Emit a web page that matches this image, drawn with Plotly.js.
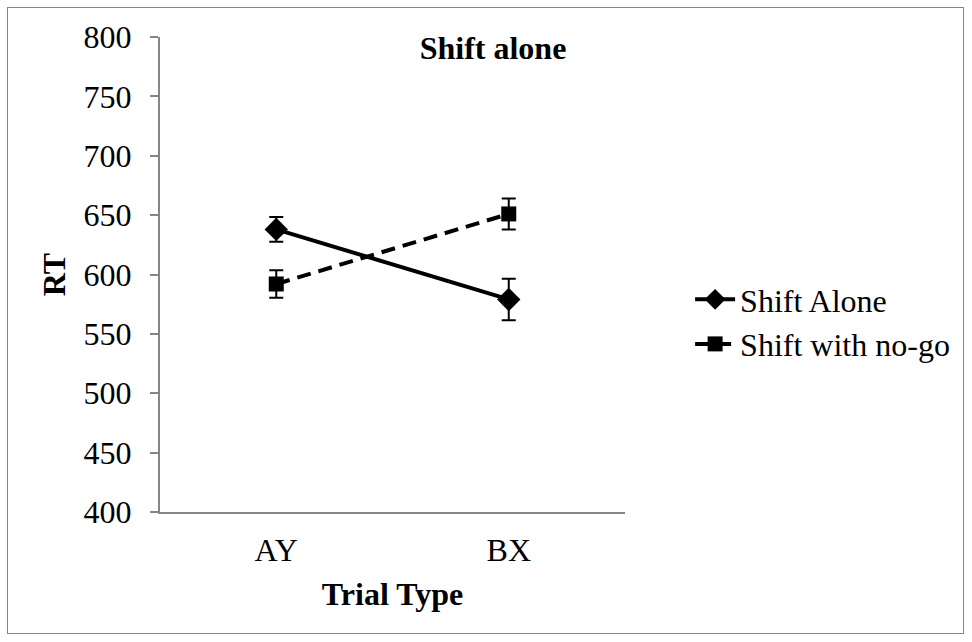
<!DOCTYPE html>
<html>
<head>
<meta charset="utf-8">
<script src="https://cdn.plot.ly/plotly-3.0.1.min.js"></script>
<style>
  html, body { margin: 0; padding: 0; background: #ffffff; }
  #frame { position: absolute; left: 7px; top: 7px; width: 957px; height: 627px; border: 1px solid #868686; box-sizing: border-box; pointer-events: none; z-index: 10; }
  #chart { width: 972px; height: 642px; }
</style>
</head>
<body>
<div id="frame"></div>
<div id="chart"></div>
<script>
const categories = ["AY", "BX"];
const shiftAlone = [638, 579];
const shiftAloneErr = [10.5, 17.5];
const shiftNoGo = [592, 651];
const shiftNoGoErr = [11.5, 13];
const yTicks = [400, 450, 500, 550, 600, 650, 700, 750, 800];

const serif = "Liberation Serif";

const traces = [
  {
    x: categories, y: shiftAlone, name: "Shift Alone",
    type: "scatter", mode: "lines+markers",
    line: { color: "#000000", width: 4 },
    marker: { symbol: "diamond", size: 18, color: "#000000" },
    error_y: { type: "data", array: shiftAloneErr, visible: true, color: "#000000", thickness: 2, width: 7 }
  },
  {
    x: categories, y: shiftNoGo, name: "Shift with no-go",
    type: "scatter", mode: "lines+markers",
    line: { color: "#000000", width: 4, dash: "14px,8px" },
    marker: { symbol: "square", size: 15, color: "#000000" },
    error_y: { type: "data", array: shiftNoGoErr, visible: true, color: "#000000", thickness: 2, width: 7 }
  }
];

const layout = {
  width: 972, height: 642,
  margin: { l: 160, r: 347, t: 37, b: 130 },
  paper_bgcolor: "#ffffff", plot_bgcolor: "#ffffff",
  font: { family: serif, color: "#000000", size: 32 },
  showlegend: true,
  title: { text: "<b>Shift alone</b>", font: { family: serif, size: 32, color: "#000000" }, x: 493 / 972, xref: "container", xanchor: "center", y: 1 - 48 / 642, yanchor: "middle", yref: "container" },
  xaxis: {
    type: "category", range: [-0.5, 1.5],
    showline: true, linecolor: "#868686", linewidth: 2,
    showgrid: false, zeroline: false, ticks: "",
    tickfont: { family: serif, size: 32 },
    ticklabelstandoff: 9,
    title: { text: "<b>Trial Type</b>", font: { family: serif, size: 32 }, standoff: 15 }
  },
  yaxis: {
    range: [400, 800], tickvals: yTicks,
    showline: true, linecolor: "#868686", linewidth: 2,
    showgrid: false, zeroline: false,
    ticks: "outside", ticklen: 8, tickwidth: 2, tickcolor: "#868686",
    tickfont: { family: serif, size: 32 },
    ticklabelstandoff: 12,
    title: { text: "<b>RT</b>", font: { family: serif, size: 32 }, standoff: 8 }
  },
  legend: {
    x: 1.14, xanchor: "left", y: 0.40, yanchor: "middle",
    font: { family: serif, size: 32 },
    bgcolor: "rgba(0,0,0,0)", tracegroupgap: 4, itemwidth: 40
  }
};

Plotly.newPlot("chart", traces, layout, { displayModeBar: false, staticPlot: true });
</script>
</body>
</html>
